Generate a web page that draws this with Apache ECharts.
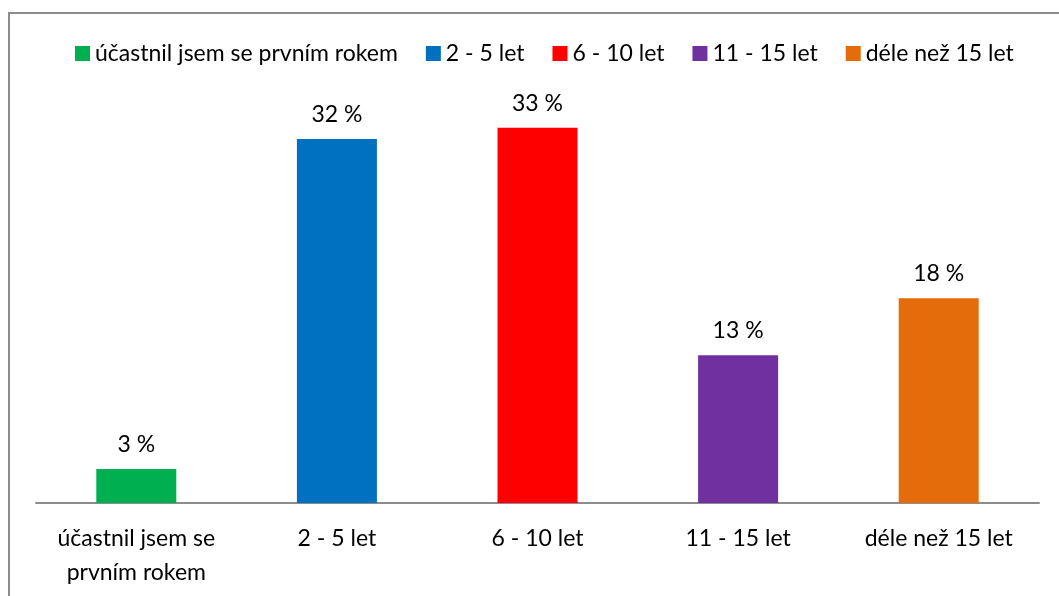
<!DOCTYPE html>
<html>
<head>
<meta charset="utf-8">
<script src="https://cdn.jsdelivr.net/npm/echarts@6/dist/echarts.min.js"></script>
<style>
  html, body { margin: 0; padding: 0; background: #fff; overflow: hidden; }
  #frame {
    position: absolute; left: 8px; top: 12px;
    width: 1100px; height: 640px;
    border: 2px solid #8c8c8c; box-sizing: border-box;
  }
  #chart { position: absolute; left: 0; top: 0; width: 1059px; height: 596px; }
</style>
</head>
<body>
<div id="frame"></div>
<div id="chart"></div>
<script>
// categories / values
const categories = ['účastnil jsem se prvním rokem', '2 - 5 let', '6 - 10 let', '11 - 15 let', 'déle než 15 let'];
const tickLabels = ['účastnil jsem se\nprvním rokem', '2 - 5 let', '6 - 10 let', '11 - 15 let', 'déle než 15 let'];
const values = [3, 32, 33, 13, 18];
const colors = ['#00b050', '#0070c0', '#ff0000', '#7030a0', '#e46c0a'];

const FONT = 'Lato';
const FS = 23;

const chart = echarts.init(document.getElementById('chart'));

// one series per category so every bar gets its own legend entry
const series = categories.map(function (name, i) {
    return {
        name: name,
        type: 'bar',
        stack: 'all',
        barWidth: 80,
        itemStyle: { color: colors[i] },
        label: {
            show: true,
            position: 'top',
            distance: 13,
            color: '#000',
            fontFamily: FONT,
            fontSize: FS,
            formatter: function (p) { return p.value + ' %'; }
        },
        data: values.map(function (v, j) { return j === i ? v : null; })
    };
});

const option = {
    animation: false,
    textStyle: { fontFamily: FONT },
    legend: {
        top: 37,
        left: 70,
        itemWidth: 15,
        itemHeight: 15,
        itemGap: 28,
        icon: 'rect',
        textStyle: { color: '#000', fontSize: FS, fontFamily: FONT },
        data: categories
    },
    grid: { left: 36, right: 20, top: 105, bottom: 93 },
    xAxis: {
        type: 'category',
        data: categories,
        axisLine: { lineStyle: { color: '#8c8c8c', width: 2 } },
        axisTick: { show: false },
        axisLabel: {
            color: '#000',
            fontSize: FS,
            fontFamily: FONT,
            margin: 19,
            lineHeight: 34,
            interval: 0,
            formatter: function (v, i) { return tickLabels[i]; }
        }
    },
    yAxis: {
        type: 'value',
        min: 0,
        max: 35,
        show: false,
        splitLine: { show: false }
    },
    series: series
};

chart.setOption(option);
</script>
</body>
</html>
